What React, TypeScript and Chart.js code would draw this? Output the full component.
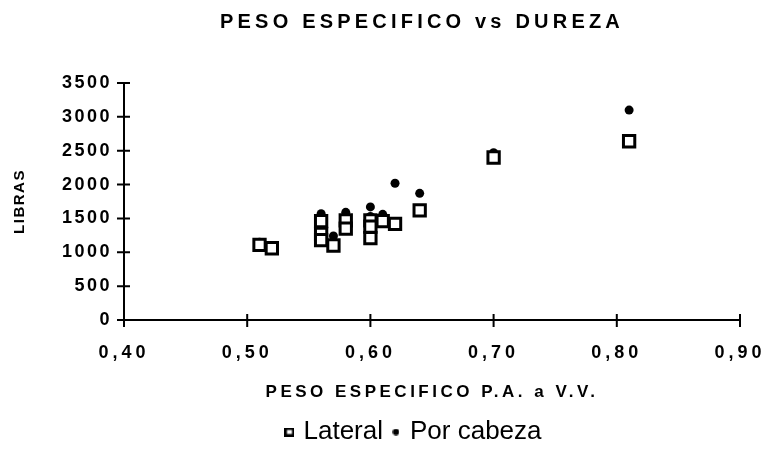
import React, { useEffect, useRef } from 'react';
import { Chart, registerables } from 'chart.js';

Chart.register(...registerables);

// ---- data ----
const lateralX = [0.51, 0.52, 0.56, 0.56, 0.56, 0.57, 0.58, 0.58, 0.60, 0.60, 0.60, 0.61, 0.62, 0.64, 0.70, 0.81];
const lateralY = [1110, 1060, 1460, 1270, 1180, 1100, 1470, 1350, 1470, 1380, 1210, 1460, 1420, 1620, 2400, 2640];
const cabezaX = [0.51, 0.52, 0.56, 0.56, 0.56, 0.57, 0.58, 0.58, 0.60, 0.60, 0.60, 0.61, 0.62, 0.64, 0.70, 0.81];
const cabezaY = [1150, 1080, 1570, 1370, 1230, 1240, 1590, 1480, 1670, 1530, 1420, 1560, 2020, 1870, 2470, 3100];
const xTickLabels = ['0,40', '0,50', '0,60', '0,70', '0,80', '0,90'];
const yTickLabels = ['0', '500', '1000', '1500', '2000', '2500', '3000', '3500'];
const seriesNames = ['Lateral', 'Por cabeza'];
const chartTitle = 'PESO ESPECIFICO vs DUREZA';
const xTitle = 'PESO ESPECIFICO P.A. a V.V.';
const yTitle = 'LIBRAS';

const FONT = '"Liberation Sans", Arial, Helvetica, sans-serif';

function wrapSpacing(chart: any, obj: any, key: string, sp: string) {
  if (!obj || obj['__sp_' + key]) return;
  const orig = obj[key];
  obj[key] = function (...args: any[]) {
    const ctx = chart.ctx;
    ctx.save();
    (ctx as any).letterSpacing = sp;
    const r = orig.apply(this, args);
    ctx.restore();
    return r;
  };
  obj['__sp_' + key] = true;
}

const spacingPlugin = {
  id: 'spacingPlugin',
  afterLayout(chart: any) {
    if (chart.titleBlock) {
      chart.titleBlock.left += 52;
      chart.titleBlock.right += 52;
    }
    if (chart.legend) {
      chart.legend.left += 45;
      chart.legend.right += 45;
    }
  },
  beforeDraw(chart: any) {
    wrapSpacing(chart, chart.titleBlock, 'draw', '4.2px');
    wrapSpacing(chart, chart.scales.x, 'drawLabels', '4px');
    wrapSpacing(chart, chart.scales.y, 'drawLabels', '2.5px');
    wrapSpacing(chart, chart.scales.x, 'drawTitle', '3.5px');
    wrapSpacing(chart, chart.scales.y, 'drawTitle', '1.5px');
  },
};

const crossTicks = {
  id: 'crossTicks',
  beforeDatasetsDraw(chart: any) {
    const { ctx, chartArea } = chart;
    const x = chart.scales.x;
    const y = chart.scales.y;
    ctx.save();
    ctx.strokeStyle = '#000';
    ctx.lineWidth = 2;
    ctx.beginPath();
    x.ticks.forEach((t: any) => {
      const px = x.getPixelForValue(t.value);
      ctx.moveTo(px, chartArea.bottom - 6);
      ctx.lineTo(px, chartArea.bottom + 7);
    });
    y.ticks.forEach((t: any) => {
      const py = y.getPixelForValue(t.value);
      ctx.moveTo(chartArea.left - 7, py);
      ctx.lineTo(chartArea.left + 6, py);
    });
    ctx.stroke();
    ctx.restore();
  },
};

function makeSquareIcon() {
  const c = document.createElement('canvas');
  c.width = 10;
  c.height = 9;
  const g = c.getContext('2d')!;
  g.fillStyle = '#000';
  g.fillRect(0, 0, 10, 9);
  g.fillStyle = '#fff';
  g.fillRect(2.5, 2.5, 5, 4);
  return c;
}

function makeDotIcon() {
  const c = document.createElement('canvas');
  c.width = 7;
  c.height = 7;
  const g = c.getContext('2d')!;
  g.fillStyle = '#000';
  g.beginPath();
  g.arc(3.5, 3.5, 3.2, 0, Math.PI * 2);
  g.fill();
  return c;
}

export default function App() {
  const ref = useRef<HTMLCanvasElement>(null);

  useEffect(() => {
    document.body.style.margin = '0';
    const icons = [makeSquareIcon(), makeDotIcon()];
    const chart = new Chart(ref.current!, {
      type: 'scatter',
      data: {
        datasets: [
          {
            label: seriesNames[0],
            data: lateralX.map((x, i) => ({ x, y: lateralY[i] })),
            pointStyle: 'rect',
            pointRadius: 8,
            pointBorderWidth: 3,
            borderColor: '#000',
            backgroundColor: '#fff',
          },
          {
            label: seriesNames[1],
            data: cabezaX.map((x, i) => ({ x, y: cabezaY[i] })),
            pointStyle: 'circle',
            pointRadius: 4.5,
            pointBorderWidth: 0,
            borderColor: '#000',
            backgroundColor: '#000',
          },
        ],
      },
      options: {
        responsive: false,
        animation: false,
        devicePixelRatio: 1,
        layout: { padding: { left: 0, right: 28, top: 0, bottom: 7 } },
        plugins: {
          tooltip: { enabled: false },
          title: {
            display: true,
            text: chartTitle,
            color: '#000',
            font: { family: FONT, size: 20, weight: 'bold' },
            padding: { top: 10, bottom: 49 },
          },
          legend: {
            display: true,
            position: 'bottom',
            labels: {
              usePointStyle: true,
              boxWidth: 2,
              boxHeight: 10,
              padding: 12,
              color: '#000',
              font: { family: FONT, size: 26 },
              generateLabels: (ch: any) =>
                ch.data.datasets.map((ds: any, i: number) => ({
                  text: ds.label,
                  pointStyle: icons[i],
                  datasetIndex: i,
                  hidden: false,
                  lineWidth: 0,
                  fillStyle: '#000',
                  strokeStyle: '#000',
                  fontColor: '#000',
                })),
            },
          },
        },
        scales: {
          x: {
            type: 'linear',
            min: 0.4,
            max: 0.9,
            grid: { display: false, drawTicks: false },
            border: { display: true, color: '#000', width: 2 },
            ticks: {
              stepSize: 0.1,
              color: '#000',
              padding: 22,
              font: { family: FONT, size: 18, weight: 'bold' },
              maxRotation: 0,
              callback: (_v: any, i: number) => xTickLabels[i],
            },
            title: {
              display: true,
              text: xTitle,
              color: '#000',
              font: { family: FONT, size: 17, weight: 'bold' },
              padding: { top: 0, bottom: 4 },
            },
            afterFit: (s: any) => {
              s.height = 87;
              s.paddingRight = 0;
              s.paddingLeft = 0;
            },
          },
          y: {
            type: 'linear',
            min: 0,
            max: 3500,
            grid: { display: false, drawTicks: false },
            border: { display: true, color: '#000', width: 2 },
            ticks: {
              stepSize: 500,
              color: '#000',
              padding: 12,
              font: { family: FONT, size: 18, weight: 'bold' },
              callback: (_v: any, i: number) => yTickLabels[i],
            },
            title: {
              display: true,
              text: yTitle,
              color: '#000',
              font: { family: FONT, size: 15, weight: 'bold' },
              padding: { top: 11, bottom: 0 },
            },
            afterFit: (s: any) => {
              s.width = 124;
            },
          },
        },
      },
      plugins: [spacingPlugin, crossTicks],
    } as any);
    return () => chart.destroy();
  }, []);

  return (
    <div style={{ width: 768, height: 462, background: '#fff' }}>
      <canvas ref={ref} width={768} height={462} style={{ display: 'block', width: 768, height: 462 }} />
    </div>
  );
}
